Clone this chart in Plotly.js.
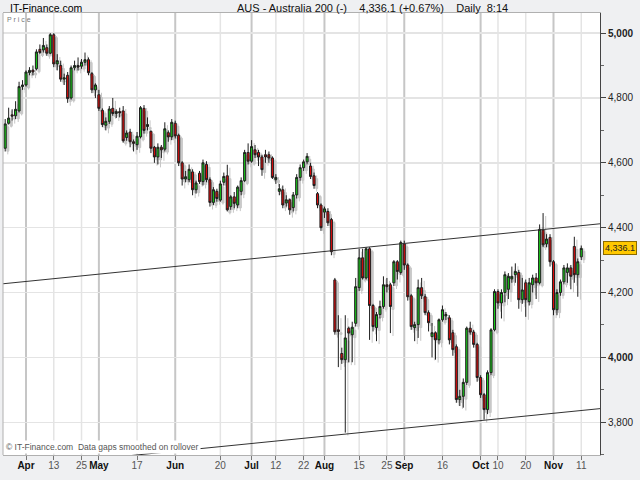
<!DOCTYPE html>
<html><head><meta charset="utf-8">
<script src="https://cdn.plot.ly/plotly-3.0.1.min.js"></script>
<style>html,body{margin:0;padding:0;background:#eff0f2;}#chart{width:640px;height:480px;}</style>
</head><body><div id="chart"></div>
<script>
const startDate = '2011-03-24';
const open = [
4645,4722,4748,4745,4760,4835,4840,4878,4886,4890,
4950,4948,4955,4938,4995,4905,4900,4858,4870,4800,
4893,4900,4898,4910,4918,4875,4825,4810,4762,4716,
4728,4768,4752,4758,4760,4678,4695,4665,4656,4680,
4768,4712,4697,4648,4618,4648,4642,4693,4680,4722,
4685,4600,4550,4548,4572,4517,4568,4542,4595,4548,
4478,4512,4485,4540,4560,4465,4495,4470,4512,4545,
4632,4605,4640,4632,4618,4625,4625,4615,4548,4512,
4517,4476,4486,4462,4501,4555,4585,4603,4590,4560,
4505,4470,4448,4450,4425,4239,4085,4012,3993,4090,
4070,4105,4215,4307,4245,4335,4160,4092,4132,4157,
4224,4224,4230,4295,4262,4350,4285,4190,4092,4101,
4215,4187,4138,4064,4076,4054,4116,4128,4122,4076,
4033,3870,3880,3923,4090,4078,4040,3938,3885,3839,
3953,4085,4203,4168,4200,4210,4242,4255,4262,4178,
4230,4172,4224,4245,4230,4393,4350,4370,4295,4147,
4200,4233,4262,4276,4342,4255,4310];
const high = [
4735,4770,4765,4790,4850,4855,4885,4895,4900,4950,
4965,4985,4965,5000,5000,4935,4915,4875,4880,4900,
4915,4925,4920,4940,4925,4880,4845,4825,4768,4740,
4775,4800,4765,4770,4775,4700,4705,4672,4695,4775,
4778,4740,4700,4652,4660,4655,4725,4700,4735,4730,
4690,4605,4575,4595,4580,4545,4575,4610,4605,4555,
4525,4520,4545,4570,4594,4500,4510,4530,4555,4640,
4660,4670,4655,4640,4625,4640,4635,4620,4565,4535,
4530,4500,4490,4510,4565,4595,4610,4630,4600,4570,
4510,4475,4465,4460,4430,4245,4130,4030,4130,4095,
4110,4245,4335,4335,4340,4340,4165,4140,4175,4250,
4245,4230,4300,4300,4360,4360,4290,4195,4110,4240,
4245,4195,4145,4106,4080,4120,4160,4140,4130,4085,
4040,3900,3935,4095,4110,4085,4045,3945,3890,3960,
4090,4210,4210,4210,4265,4260,4280,4290,4270,4245,
4240,4245,4255,4260,4410,4445,4380,4380,4300,4210,
4240,4285,4290,4285,4372,4305,4345];
const low = [
4635,4718,4730,4735,4755,4825,4835,4870,4870,4885,
4935,4940,4930,4935,4895,4885,4850,4840,4785,4795,
4885,4885,4890,4900,4870,4815,4800,4760,4710,4700,
4720,4745,4738,4740,4662,4668,4648,4635,4640,4675,
4690,4700,4630,4600,4595,4615,4635,4665,4670,4675,
4590,4530,4540,4540,4500,4505,4535,4530,4540,4465,
4470,4480,4480,4530,4450,4455,4460,4460,4500,4540,
4595,4600,4615,4590,4560,4600,4600,4550,4535,4500,
4460,4465,4440,4450,4490,4545,4575,4595,4550,4520,
4460,4390,4430,4405,4315,4070,3970,3980,3768,3985,
3985,4095,4205,4240,4240,4054,4080,4050,4120,4150,
4200,4075,4220,4240,4255,4270,4175,4085,4050,4060,
4180,4130,4080,4000,3993,4040,4110,4115,4040,4005,
3860,3850,3845,3915,4070,4030,3925,3875,3808,3825,
3945,4080,4150,4120,4170,4180,4230,4230,4150,4165,
4125,4160,4200,4180,4225,4340,4340,4280,4130,4130,
4190,4225,4230,4210,4230,4187,4300];
const close = [
4720,4738,4744,4765,4835,4840,4880,4885,4880,4942,
4940,4962,4938,4995,4905,4915,4858,4862,4798,4893,
4900,4895,4910,4918,4878,4825,4840,4768,4718,4728,
4766,4752,4758,4754,4668,4692,4665,4660,4682,4770,
4700,4718,4645,4618,4648,4640,4705,4680,4725,4683,
4600,4550,4557,4580,4517,4538,4542,4600,4548,4478,
4517,4490,4535,4558,4455,4495,4475,4525,4545,4632,
4605,4650,4625,4618,4579,4618,4615,4555,4555,4520,
4470,4486,4455,4501,4555,4585,4603,4620,4558,4530,
4470,4400,4458,4415,4326,4079,4080,3993,4060,4075,
4093,4218,4307,4245,4335,4160,4095,4132,4157,4224,
4218,4157,4295,4265,4354,4285,4187,4095,4101,4215,
4190,4138,4107,4076,4054,4116,4147,4132,4054,4024,
3870,3880,3923,4090,4078,4040,3938,3885,3839,3953,
4085,4203,4168,4200,4255,4250,4250,4265,4178,4208,
4178,4230,4245,4230,4395,4347,4365,4295,4147,4200,
4233,4276,4276,4250,4255,4295,4336.1];

const tickDates = ['2011-04-01','2011-04-13','2011-04-25','2011-05-02','2011-05-17','2011-06-01','2011-06-20',
  '2011-07-01','2011-07-12','2011-07-22','2011-08-01','2011-08-15','2011-08-25','2011-09-01','2011-09-16',
  '2011-10-03','2011-10-10','2011-10-20','2011-11-01','2011-11-11'];
const tickLabels = ['Apr','13','25','May','17','Jun','20','Jul','12','22','Aug','15','25','Sep','16','Oct','10','20','Nov','11'];
const yTicks = [3800,4000,4200,4400,4600,4800,5000];
const yTickLabels = ['3,800','4,000','4,200','4,400','4,600','4,800','5,000'];
const yBoldTicks = [4000,5000];
const upperLine = [4227, 4412];
const lowerLine = [3697, 3842];
const lastPrice = 4336.1;
const headerLeft = 'IT-Finance.com';
const headerTitle = 'AUS - Australia 200 (-)\u00a0\u00a0\u00a0 4,336.1 (+0.67%)\u00a0\u00a0\u00a0 Daily\u00a0 8:14';
const footerText = '\u00a9 IT-Finance.com\u00a0 Data gaps smoothed on rollover';

// weekday calendar for the bars (bars are placed at their trading-day position)
function weekdays(start, n) {
  const out = []; const d = new Date(start + 'T00:00:00Z');
  while (out.length < n) {
    const wd = d.getUTCDay();
    if (wd !== 0 && wd !== 6) out.push(d.toISOString().slice(0, 10));
    d.setUTCDate(d.getUTCDate() + 1);
  }
  return out;
}
const dates = weekdays(startDate, close.length);
const xPos = dates.map((d, k) => k);
const tickPos = tickDates.map(d => dates.indexOf(d));

const FONT = 'Arial, "Liberation Sans", sans-serif';
const xRange = [-0.63, dates.length + 4.4];
const yRange = [3699, 5062];
// drop-shadow offset of the candles (in axis units)
const SHX = 0.75, SHY = 9;

const isMonth = t => isNaN(Number(t));
const tickText = tickLabels.map(t => isMonth(t) ? '<b>' + t + '</b>' : '<span style="color:#555">' + t + '</span>');
const yText = yTicks.map((v, k) => yBoldTicks.includes(v) ? '<b>' + yTickLabels[k] + '</b>' : yTickLabels[k]);

const shapes = [];
tickPos.forEach((p, k) => {
  const m = isMonth(tickLabels[k]);
  shapes.push({type: 'line', layer: 'below', xref: 'x', yref: 'paper', x0: p, x1: p, y0: 0, y1: 1,
    line: {color: m ? '#c6c6c6' : '#e4e4e4', width: m ? 2 : 1.5}});
});
shapes.push({type: 'line', layer: 'above', xref: 'x', yref: 'y', x0: xRange[0], x1: xRange[1], y0: upperLine[0], y1: upperLine[1], line: {color: '#333', width: 1}});
shapes.push({type: 'line', layer: 'above', xref: 'x', yref: 'y', x0: 36, x1: xRange[1], y0: lowerLine[0], y1: lowerLine[1], line: {color: '#333', width: 1}});
shapes.push({type: 'line', layer: 'above', xref: 'paper', yref: 'paper', x0: 0, x1: 0, y0: 0, y1: 1, line: {color: '#b0b0b0', width: 1}});

const shadow = {
  type: 'candlestick', x: xPos, open: open, high: high, low: low, close: close,
  xaxis: 'x2', yaxis: 'y2',
  increasing: {line: {color: '#c6c6c6', width: 1}, fillcolor: '#cacaca'},
  decreasing: {line: {color: '#c6c6c6', width: 1}, fillcolor: '#cacaca'},
  whiskerwidth: 0, hoverinfo: 'skip', showlegend: false
};
const trace = {
  type: 'candlestick', x: xPos, open: open, high: high, low: low, close: close,
  xaxis: 'x3', yaxis: 'y3',
  increasing: {line: {color: '#1e1e1e', width: 1}, fillcolor: '#18c818'},
  decreasing: {line: {color: '#1e1e1e', width: 1}, fillcolor: '#dd0a0a'},
  whiskerwidth: 0, hoverinfo: 'skip', showlegend: false
};
const hiddenAxis = {visible: false, fixedrange: true, showgrid: false, zeroline: false};

const layout = {
  width: 640, height: 480,
  paper_bgcolor: '#eff0f2', plot_bgcolor: '#ffffff',
  margin: {l: 3, r: 40, t: 13, b: 25},
  font: {family: FONT, size: 10, color: '#222'},
  showlegend: false, boxgap: 0.15,
  xaxis: {
    type: 'linear', range: xRange,
    tickmode: 'array', tickvals: tickPos, ticktext: tickText, tickangle: 0,
    ticks: 'outside', ticklen: 4, tickcolor: '#777', tickfont: {size: 10, color: '#111'},
    ticklabelstandoff: -3,
    showgrid: false, showline: true, linecolor: '#b0b0b0', linewidth: 1, mirror: true,
    zeroline: false, fixedrange: true
  },
  yaxis: {
    side: 'right', range: yRange, tickmode: 'array', tickvals: yTicks, ticktext: yText,
    ticks: 'outside', ticklen: 5, tickcolor: '#444', tickfont: {size: 10, color: '#222'},
    showgrid: true, gridcolor: '#e4e4e4', gridwidth: 1.5,
    minor: {dtick: 100, ticks: 'outside', ticklen: 3, tickcolor: '#666', showgrid: false},
    showline: true, linecolor: '#444', linewidth: 1, zeroline: false, fixedrange: true
  },
  xaxis2: Object.assign({type: 'linear', overlaying: 'x', anchor: 'y2', rangeslider: {visible: false},
    range: [xRange[0] - SHX, xRange[1] - SHX]}, hiddenAxis),
  yaxis2: Object.assign({overlaying: 'y', anchor: 'x2', range: [yRange[0] + SHY, yRange[1] + SHY]}, hiddenAxis),
  xaxis3: Object.assign({type: 'linear', overlaying: 'x', anchor: 'y3', rangeslider: {visible: false},
    range: xRange}, hiddenAxis),
  yaxis3: Object.assign({overlaying: 'y', anchor: 'x3', range: yRange}, hiddenAxis),
  shapes: shapes,
  annotations: [
    {xref: 'paper', yref: 'paper', x: 0, y: 1, xanchor: 'left', yanchor: 'bottom', yshift: -3, xshift: 5,
     text: headerLeft, showarrow: false, font: {size: 10.5, color: '#000'}},
    {xref: 'paper', yref: 'paper', x: 0.388, y: 1, xanchor: 'left', yanchor: 'bottom', yshift: -3,
     text: headerTitle, showarrow: false, font: {size: 11, color: '#111'}},
    {xref: 'paper', yref: 'paper', x: 0, y: 1, xanchor: 'left', yanchor: 'top', xshift: 2, yshift: -1,
     text: 'P r i c e', showarrow: false, font: {size: 7, color: '#777'}},
    {xref: 'paper', yref: 'paper', x: 0, y: 0, xanchor: 'left', yanchor: 'bottom', xshift: 1, yshift: 1,
     text: footerText, showarrow: false, font: {size: 8.5, color: '#555'}, bgcolor: '#ffffff', borderpad: 1},
    {xref: 'paper', yref: 'y', x: 1, y: lastPrice, xanchor: 'left', yanchor: 'middle', xshift: 3,
     text: lastPrice.toLocaleString('en-US', {minimumFractionDigits: 1}), showarrow: false,
     font: {size: 9, color: '#222'}, bgcolor: '#ffc800', bordercolor: '#8a6a00', borderwidth: 1, borderpad: 1}
  ]
};

Plotly.newPlot('chart', [shadow, trace], layout, {staticPlot: true, displayModeBar: false});
</script>
</body></html>
